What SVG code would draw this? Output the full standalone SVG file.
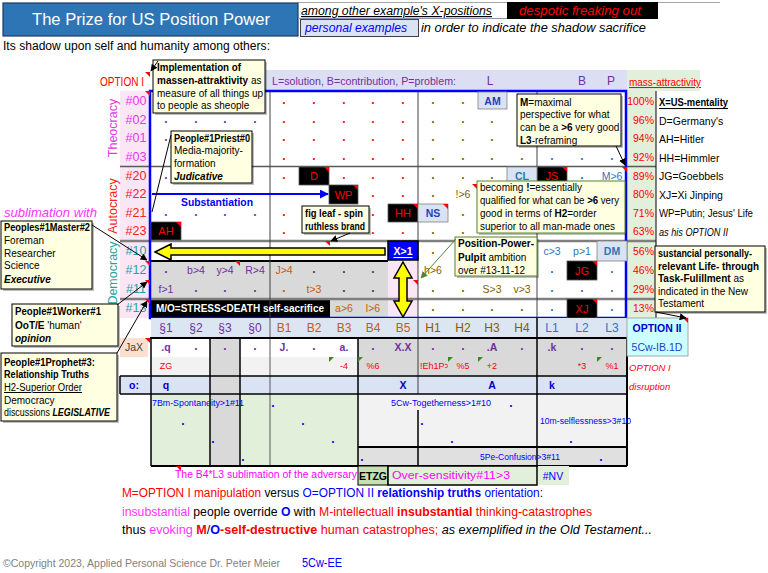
<svg xmlns="http://www.w3.org/2000/svg" width="768" height="573" viewBox="0 0 768 573">
<defs>
<style>
text{font-family:'Liberation Sans',Arial,Helvetica,sans-serif;}
.c{text-anchor:middle;dominant-baseline:central;font-size:10.5px}
.d{text-anchor:middle;font-size:12px;font-weight:bold}
.pu{fill:#7030a0}.or{fill:#c55a11}.ol{fill:#7f6000}.bl{fill:#2e75b6}.rd{fill:#ff0000}.dk{fill:#404040}.bb{fill:#0000ff}
.b{font-weight:bold}.i{font-style:italic}.u{text-decoration:underline}
.cb{fill:#ffffe1;stroke:#000;stroke-width:1}
.cg{fill:#ffffe1;stroke:#548235;stroke-width:1}
.sh{fill:#000;fill-opacity:.25}
.cm{font-size:10px;fill:#000}
.blk{fill:#000;stroke:#595959;stroke-width:.8}
.blt{fill:#ff0000;font-size:11px;text-anchor:middle;dominant-baseline:central}
.lbx{fill:#dae3f3;stroke:#7f7f7f;stroke-width:.8}
.lbt{font-size:10.5px;font-weight:bold;text-anchor:middle;dominant-baseline:central}
.pc{fill:#ff0000;font-size:10.5px;text-anchor:end;dominant-baseline:central}
.lg{font-size:10.5px;fill:#000;dominant-baseline:central}
.rl{font-size:12.5px;text-anchor:middle;dominant-baseline:central}
.sm{font-size:9px;fill:#ff0000;text-anchor:middle;dominant-baseline:central}
.gt{font-size:8.5px;fill:#0000ff}
.hd{font-size:12px;text-anchor:middle;dominant-baseline:central}
.cn{stroke:#000;stroke-width:1;fill:none}
</style>
<marker id="a" viewBox="0 0 10 10" refX="9" refY="5" markerWidth="7" markerHeight="7" orient="auto"><path d="M0,0L10,5L0,10z" fill="#000"/></marker>
<marker id="ag" viewBox="0 0 10 10" refX="9" refY="5" markerWidth="7" markerHeight="7" orient="auto"><path d="M0,0L10,5L0,10z" fill="#548235"/></marker>
<marker id="ab" viewBox="0 0 10 10" refX="9" refY="5" markerWidth="4.5" markerHeight="4.5" orient="auto"><path d="M0,0L10,5L0,10z" fill="#0000ff"/></marker>
<clipPath id="clipEh"><rect x="418" y="357" width="30" height="19"/></clipPath>
</defs>

<rect width="768" height="573" fill="#fff"/>

<g id="header">
<line x1="298" y1="2.5" x2="720" y2="2.5" stroke="#a6a6a6"/>
<rect x="3" y="3" width="295" height="33" fill="#2e75b6" stroke="#1f3864" stroke-width="1.2"/>
<text x="151" y="25" font-size="17" fill="#fff" text-anchor="middle" textLength="238" lengthAdjust="spacingAndGlyphs">The Prize for US Position Power</text>
<line x1="298" y1="18.5" x2="507" y2="18.5" stroke="#8497b0"/>
<text x="301" y="15" font-size="12" class="i u" textLength="191" lengthAdjust="spacingAndGlyphs">among other example's X-positions</text>
<rect x="507" y="2" width="151" height="17" fill="#000"/>
<text x="519" y="15" font-size="12" fill="#ff0000" class="i" textLength="122" lengthAdjust="spacingAndGlyphs">despotic freaking out</text>
<rect x="300.5" y="19.5" width="118" height="17" fill="#dae3f3" stroke="#404040"/>
<text x="305" y="32" font-size="12" fill="#0000ff" class="i" textLength="102" lengthAdjust="spacingAndGlyphs">personal examples</text>
<text x="421" y="32" font-size="12" class="i" textLength="225" lengthAdjust="spacingAndGlyphs">in order to indicate the shadow sacrifice</text>
<text x="3" y="50" font-size="12" textLength="267" lengthAdjust="spacingAndGlyphs">Its shadow upon self and humanity among others:</text>
<text x="100" y="86" font-size="13" fill="#ff0000" textLength="44" lengthAdjust="spacingAndGlyphs">OPTION I</text>
</g>

<g id="bands">
<rect x="265" y="70" width="362" height="21" fill="#dcdff4"/>
<text x="272" y="85" font-size="11" class="pu" textLength="184" lengthAdjust="spacingAndGlyphs">L=solution, B=contribution, P=problem:</text>
<text x="490" y="85" font-size="12" class="pu" text-anchor="middle">L</text>
<text x="582" y="85" font-size="12" class="pu" text-anchor="middle">B</text>
<text x="611" y="85" font-size="12" class="pu" text-anchor="middle">P</text>
<rect x="627" y="70" width="73" height="21" fill="#e2efda"/>
<text x="629" y="86" font-size="10.5" fill="#ff0000" class="u" textLength="72" lengthAdjust="spacingAndGlyphs">mass-attractivity</text>
</g>

<g id="grid-bg">
<rect x="120" y="91" width="30" height="227" fill="#fbe6f6"/>
<rect x="151" y="261" width="237" height="38" fill="#d9d9d9"/>
<rect x="151" y="299" width="179" height="19" fill="#000"/>
<rect x="330" y="299" width="58" height="19" fill="#d9d9d9"/>
<rect x="388" y="261" width="30" height="57" fill="#fbe6f6"/>
<rect x="627" y="91" width="29" height="227" fill="#e2efda"/>
</g>

<g id="grid-lines" fill="none">
<line x1="120" y1="166.5" x2="656" y2="166.5" stroke="#595959" stroke-width="1.5"/>
<line x1="120" y1="241" x2="656" y2="241" stroke="#7f7f7f" stroke-width="2.5"/>
<line x1="120" y1="299" x2="656" y2="299" stroke="#7f7f7f" stroke-width="2.5"/>
<line x1="150" y1="261" x2="388" y2="261" stroke="#000" stroke-width="2"/>
<line x1="270" y1="91" x2="270" y2="318" stroke="#404040"/>
<line x1="418" y1="91" x2="418" y2="318" stroke="#404040"/>
<line x1="537" y1="91" x2="537" y2="318" stroke="#404040"/>
<line x1="656" y1="91" x2="656" y2="318" stroke="#000"/>
<rect x="150" y="91" width="476" height="227" stroke="#0000ff" stroke-width="2.5"/>
</g>

<g id="row-labels">
<text x="113" y="128" class="rl" fill="#e636e6" transform="rotate(-90 113 128)">Theocracy</text>
<text x="113" y="206" class="rl" fill="#ff2020" transform="rotate(-90 113 206)">Autocracy</text>
<text x="113" y="273" class="rl" fill="#2aa0a0" transform="rotate(-90 113 273)">Democracy</text>
<g fill="#e636e6">
<text x="136" y="101" class="rl">#00</text><text x="136" y="120" class="rl">#02</text><text x="136" y="138" class="rl">#01</text><text x="136" y="157" class="rl">#03</text>
</g>
<g fill="#ff2020">
<text x="136" y="176" class="rl">#20</text><text x="136" y="194" class="rl">#22</text><text x="136" y="213" class="rl">#21</text><text x="136" y="231" class="rl">#23</text>
</g>
<g fill="#2aa0a0">
<text x="136" y="251" class="rl">#10</text><text x="136" y="270" class="rl">#12</text><text x="136" y="289" class="rl">#11</text><text x="136" y="308" class="rl">#13</text>
</g>
</g>

<g id="dots">
<text class="d rd" x="284 314 344 373 403" y="104">.....</text><text class="d ol" x="433 463" y="104">..</text>
<text class="d pu" x="166 196 225 255" y="123">....</text><text class="d rd" x="284 314 344 373 403" y="123">.....</text><text class="d ol" x="433 463 492" y="123">...</text>
<text class="d pu" x="166" y="141">.</text><text class="d rd" x="284 314 344 373 403" y="141">.....</text><text class="d ol" x="433 463 492" y="141">...</text>
<text class="d rd" x="284 314 344 373 403" y="160">.....</text><text class="d ol" x="433 463 492 522" y="160">....</text><text class="d bl" x="552 582 612" y="160">...</text>
<text class="d pu" x="166" y="179">.</text><text class="d rd" x="284 344 373 403" y="179">....</text><text class="d ol" x="433 463 492" y="179">...</text><text class="d bl" x="582" y="179">.</text>
<text class="d rd" x="373 403" y="197">..</text><text class="d ol" x="433" y="197">.</text>
<text class="d pu" x="166 196 225 255" y="216">....</text><text class="d rd" x="284 373" y="216">..</text><text class="d ol" x="463" y="216">.</text>
<text class="d rd" x="284 373 403" y="234">...</text><text class="d ol" x="433 463" y="234">..</text>
<text class="d ol" x="433" y="254">.</text>
<text class="d pu" x="166" y="273">.</text><text class="d dk" x="314 344 373" y="273">...</text><text class="d bl" x="552 612" y="273">..</text>
<text class="d pu" x="196 225 255" y="292">...</text><text class="d or" x="284" y="292">.</text><text class="d dk" x="344 373" y="292">..</text><text class="d ol" x="433 463" y="292">..</text><text class="d bl" x="552 582 612" y="292">...</text>
<text class="d ol" x="433 463 492 522" y="311">....</text><text class="d bl" x="552 612" y="311">..</text>
</g>

<g id="cell-values">
<text x="612" y="176" class="c bl" font-size="11">M&gt;6</text>
<text x="463" y="194" class="c ol" font-size="11">!&gt;6</text>
<text x="552" y="251" class="c bl" font-size="11.5">c&gt;3</text>
<text x="582" y="251" class="c bl" font-size="11.5">p&gt;1</text>
<text x="196" y="270" class="c pu" font-size="11">b&gt;4</text>
<text x="225" y="270" class="c pu" font-size="11">y&gt;4</text>
<text x="255" y="270" class="c pu" font-size="11">R&gt;4</text>
<text x="284" y="270" class="c or" font-size="11">J&gt;4</text>
<text x="433" y="270" class="c ol" font-size="11">h&gt;6</text>
<text x="166" y="289" class="c pu" font-size="11">f&gt;1</text>
<text x="314" y="289" class="c or" font-size="11">t&gt;3</text>
<text x="492" y="289" class="c ol" font-size="11">S&gt;3</text>
<text x="522" y="289" class="c ol" font-size="11">v&gt;3</text>
<text x="344" y="308" class="c or" font-size="11">a&gt;6</text>
<text x="373" y="308" class="c or" font-size="11">l&gt;6</text>
<text x="156" y="312" font-size="11.5" fill="#fff" class="b" textLength="168" lengthAdjust="spacingAndGlyphs">M/O=STRESS&lt;DEATH self-sacrifice</text>
</g>

<g id="n-D"><rect x="299" y="167" width="30" height="18" class="blk"/><text x="314" y="176" class="blt">D</text></g>
<g id="n-WP"><rect x="329" y="185" width="29" height="19" class="blk"/><text x="343.5" y="194.5" class="blt">WP</text></g>
<g id="n-JS"><rect x="537" y="167" width="30" height="18" class="blk"/><text x="552" y="176" class="blt">JS</text></g>
<g id="n-HH"><rect x="388" y="204" width="30" height="18" class="blk"/><text x="403" y="213" class="blt">HH</text></g>
<g id="n-AH"><rect x="151" y="222" width="30" height="18" class="blk"/><text x="166" y="231" class="blt">AH</text></g>
<g id="n-JG"><rect x="567" y="261" width="30" height="19" class="blk"/><text x="582" y="270.5" class="blt">JG</text></g>
<g id="n-XJ"><rect x="567" y="299" width="30" height="19" class="blk"/><text x="582" y="308.5" class="blt">XJ</text></g>
<g id="n-AM"><rect x="478" y="92" width="29" height="17" class="lbx"/><text x="492.5" y="100.5" class="lbt" fill="#1f3fbf">AM</text></g>
<g id="n-CL"><rect x="507" y="167" width="30" height="18" class="lbx"/><text x="522" y="176" class="lbt" fill="#2e75b6">CL</text></g>
<g id="n-NS"><rect x="418" y="204" width="30" height="18" class="lbx"/><text x="433" y="213" class="lbt" fill="#1f3fbf">NS</text></g>
<g id="n-DM"><rect x="597" y="241" width="30" height="20" class="lbx"/><text x="612" y="251" class="lbt" fill="#2e75b6">DM</text></g>
<g id="n-X1"><rect x="388" y="241" width="30" height="19" fill="#0000ff" stroke="#000" stroke-width="1.5"/><text x="403" y="251" class="c b u" font-size="12" fill="#fff">X&gt;1</text></g>

<g id="arrows">
<polygon points="155,252 171,244 171,248 385,248 385,255 171,255 171,260" fill="#ffff00" stroke="#000" stroke-width="1.5" stroke-linejoin="miter"/>
<polygon points="403,262 412,278 407,278 407,301 412,301 403,317 394,301 399,301 399,278 394,278" fill="#ffff00" stroke="#000" stroke-width="1.5"/>
<line x1="152" y1="194" x2="328" y2="194" stroke="#0000ff" stroke-width="2" marker-end="url(#ab)"/>
<text x="181" y="206" font-size="11" fill="#0000ff" class="b" textLength="72" lengthAdjust="spacingAndGlyphs">Substantiation</text>
</g>

<g id="percent">
<text x="654" y="101" class="pc">100%</text><text x="654" y="120" class="pc">96%</text><text x="654" y="138" class="pc">94%</text><text x="654" y="157" class="pc">92%</text>
<text x="654" y="176" class="pc">89%</text><text x="654" y="194" class="pc">80%</text><text x="654" y="213" class="pc">71%</text><text x="654" y="231" class="pc">63%</text>
<text x="654" y="251" class="pc">56%</text><text x="654" y="270" class="pc">46%</text><text x="654" y="289" class="pc">29%</text><text x="654" y="308" class="pc">13%</text>
</g>

<g id="legend">
<text x="659" y="102" class="lg b u" textLength="69" lengthAdjust="spacingAndGlyphs">X=US-mentality</text>
<text x="659" y="121" class="lg">D=Germany's</text>
<text x="659" y="139" class="lg">AH=Hitler</text>
<text x="659" y="158" class="lg">HH=Himmler</text>
<text x="659" y="176" class="lg">JG=Goebbels</text>
<text x="659" y="195" class="lg">XJ=Xi Jinping</text>
<text x="659" y="213" class="lg" textLength="94" lengthAdjust="spacingAndGlyphs">WP=Putin; Jesus' Life</text>
<text x="659" y="232" class="lg i" fill="#0000ff" textLength="69" lengthAdjust="spacingAndGlyphs">as his OPTION II</text>
</g>

<g id="lower-bg">
<rect x="151" y="318" width="476" height="20" fill="#dce6f2"/>
<rect x="151" y="338" width="207" height="19" fill="#fff"/>
<rect x="358" y="338" width="269" height="19" fill="#d9d9d9"/>
<rect x="151" y="357" width="207" height="19" fill="#f2f2f2"/>
<rect x="358" y="357" width="269" height="19" fill="#d9d9d9"/>
<rect x="120" y="376" width="507" height="18" fill="#dae3f3"/>
<rect x="151" y="394" width="207" height="72" fill="#e2efda"/>
<rect x="358" y="394" width="269" height="53" fill="#f2f2f2"/>
<rect x="358" y="447" width="269" height="19" fill="#e0e0e0"/>
<rect x="210" y="338" width="30" height="128" fill="#d9d9d9"/>
<rect x="120" y="338" width="28" height="19" fill="#fbe0d0"/>
</g>

<g id="lower-lines" fill="none">
<line x1="270" y1="318" x2="270" y2="466" stroke="#595959"/>
<line x1="418" y1="318" x2="418" y2="394" stroke="#404040"/>
<line x1="418" y1="410" x2="418" y2="466" stroke="#000" stroke-width="1.5"/>
<line x1="537" y1="318" x2="537" y2="466" stroke="#000" stroke-width="1.5"/>
<line x1="210" y1="338" x2="210" y2="466" stroke="#000" stroke-width="1.5"/>
<line x1="240" y1="338" x2="240" y2="466" stroke="#000" stroke-width="1.5"/>
<line x1="358" y1="338" x2="358" y2="466" stroke="#000" stroke-width="1.5"/>
<line x1="150" y1="338" x2="627" y2="338" stroke="#000" stroke-width="2"/>
<line x1="120" y1="376" x2="627" y2="376" stroke="#000" stroke-width="1.5"/>
<line x1="120" y1="394" x2="627" y2="394" stroke="#000" stroke-width="1.5"/>
<line x1="120" y1="376" x2="120" y2="394" stroke="#000" stroke-width="1.5"/>
<line x1="358" y1="447" x2="627" y2="447" stroke="#000" stroke-width="2"/>
<line x1="151" y1="338" x2="151" y2="466" stroke="#000" stroke-width="1.5"/>
<line x1="627" y1="338" x2="627" y2="466" stroke="#000" stroke-width="2"/>
<line x1="151" y1="466" x2="627" y2="466" stroke="#000" stroke-width="2"/>
</g>

<g id="col-headers">
<text x="166" y="328" class="hd pu">§1</text><text x="196" y="328" class="hd pu">§2</text><text x="225" y="328" class="hd pu">§3</text><text x="255" y="328" class="hd pu">§0</text>
<text x="284" y="328" class="hd or">B1</text><text x="314" y="328" class="hd or">B2</text><text x="344" y="328" class="hd or">B3</text><text x="373" y="328" class="hd or">B4</text><text x="403" y="328" class="hd or">B5</text>
<text x="433" y="328" class="hd ol">H1</text><text x="463" y="328" class="hd ol">H2</text><text x="492" y="328" class="hd ol">H3</text><text x="522" y="328" class="hd ol">H4</text>
<text x="552" y="328" class="hd bl">L1</text><text x="582" y="328" class="hd bl">L2</text><text x="612" y="328" class="hd bl">L3</text>
</g>

<g id="n-option2">
<rect x="627" y="318" width="61" height="38" fill="#ccffff" stroke="#a6a6a6"/>
<text x="657" y="328" class="c b" font-size="12" fill="#0000cc">OPTION II</text>
<text x="657" y="347" class="c" font-size="11" fill="#1f3fbf">5Cw-IB.1D</text>
</g>

<g id="lower-values">
<text x="134" y="347" class="c" font-size="12" fill="#404040">JaX</text>
<text x="166" y="347" class="c pu b" font-size="12">.q</text>
<text class="d pu" x="196 225 255" y="350">...</text>
<text x="284" y="347" class="c pu b" font-size="12">J.</text>
<text class="d pu" x="314" y="350">.</text>
<text x="344" y="347" class="c pu b" font-size="12">a.</text>
<text class="d pu" x="373" y="350">.</text>
<text x="403" y="347" class="c pu b" font-size="12">X.X</text>
<text class="d pu" x="433 463" y="350">..</text>
<text x="492" y="347" class="c pu b" font-size="12">.A</text>
<text class="d pu" x="522" y="350">.</text>
<text x="552" y="347" class="c pu b" font-size="12">.k</text>
<text class="d pu" x="582 612" y="350">..</text>
<text x="166" y="366" class="sm">ZG</text>
<text x="344" y="366" class="sm">-4</text>
<text x="373" y="366" class="sm">%6</text>
<text x="420" y="366" class="sm" style="text-anchor:start" clip-path="url(#clipEh)">!Eh1P&gt;5</text>
<text x="463" y="366" class="sm">%5</text>
<text x="492" y="366" class="sm">+2</text>
<text x="582" y="366" class="sm">*3</text>
<text x="612" y="366" class="sm">%1</text>
<text x="629" y="367" font-size="9.5" fill="#ff0000" class="i" dominant-baseline="central">OPTION I</text>
<text x="629" y="386" font-size="9.5" fill="#ff0000" class="i" dominant-baseline="central">disruption</text>
<text x="134" y="385" class="c b" font-size="12.5" fill="#0000cc">o:</text>
<text x="166" y="385" class="c b" font-size="12.5" fill="#0000cc">q</text>
<text x="403" y="385" class="c b" font-size="12.5" fill="#0000cc">X</text>
<text x="492" y="385" class="c b" font-size="12.5" fill="#0000cc">A</text>
<text x="552" y="385" class="c b" font-size="12.5" fill="#0000cc">k</text>
<text x="152" y="406" class="gt" textLength="92" lengthAdjust="spacingAndGlyphs">7Bm-Spontaneity&gt;1#11</text>
<text x="391" y="406" class="gt" textLength="100" lengthAdjust="spacingAndGlyphs">5Cw-Togetherness&gt;1#10</text>
<text x="540" y="424" class="gt" textLength="91" lengthAdjust="spacingAndGlyphs">10m-selflessness&gt;3#10</text>
<text x="480" y="460" class="gt" textLength="80" lengthAdjust="spacingAndGlyphs">5Pe-Confusion&gt;3#11</text>
<text class="d bb" font-size="10" x="183 213 243 273 303 333 362 422 452 511 571 601" y="425 443 461 407 425 443 461 425 443 407 443 461">............</text>
</g>

<g id="markers" fill="#ff0000">
<path d="M145,72h5v5z"/><path d="M145,91h5v5z"/><path d="M324,167h5v5z"/><path d="M353,185h5v5z"/>
<path d="M562,167h5v5z"/><path d="M472,184h5v5z"/><path d="M413,204h5v5z"/><path d="M443,204h5v5z"/>
<path d="M176,222h5v5z"/><path d="M235,261h5v5z"/><path d="M145,261h5v5z"/><path d="M145,280h5v5z"/>
<path d="M145,299h5v5z"/><path d="M325,241h5v5z"/><path d="M413,280h5v5z"/><path d="M592,261h5v5z"/>
<path d="M592,299h5v5z"/><path d="M683,318h5v5z"/><path d="M145,338h5v5z"/><path d="M176,466h5v5z"/>
<path d="M622,167h5v5z"/>
</g>
<g id="green-markers" fill="#3a8a1e">
<path d="M329,357h5l-5,5z"/><path d="M358,357h5l-5,5z"/><path d="M448,357h5l-5,5z"/><path d="M478,357h5l-5,5z"/><path d="M597,357h5l-5,5z"/>
</g>

<g id="bottom-row">
<text x="175" y="478" font-size="11" fill="#ff00ff" textLength="182" lengthAdjust="spacingAndGlyphs">The B4*L3 sublimation of the adversary</text>
<g id="n-ETZG"><rect x="358" y="466" width="30" height="19" fill="#c6e0b4" stroke="#000"/><text x="373" y="476" class="c b" font-size="8.5">ETZG</text></g>
<g id="n-oversens"><rect x="388" y="466" width="149" height="19" fill="#e2efda" stroke="#000" stroke-width="1.5"/><text x="392" y="479" font-size="10.5" fill="#ff00ff" textLength="118" lengthAdjust="spacingAndGlyphs">Over-sensitivity#11&gt;3</text></g>
<g id="n-NV"><rect x="538" y="466" width="31" height="19" fill="#e2efda"/><text x="553" y="476" class="c" font-size="10" fill="#0000ff">#NV</text></g>
</g>

<g id="c-massen">
<rect x="155" y="62" width="112" height="53" class="sh"/>
<rect x="153" y="60" width="112" height="53" class="cb"/>
<text x="157" y="71" class="cm b" textLength="84" lengthAdjust="spacingAndGlyphs">Implementation of</text>
<text x="157" y="84" class="cm"><tspan class="b">massen-attraktivity</tspan> as</text>
<text x="157" y="97" class="cm">measure of all things up</text>
<text x="157" y="109" class="cm">to people as sheople</text>
</g>

<g id="c-maximal">
<rect x="519" y="96" width="104" height="52" class="sh"/>
<rect x="517" y="94" width="104" height="52" class="cb"/>
<text x="520" y="106" class="cm"><tspan class="b">M</tspan>=maximal</text>
<text x="520" y="118" class="cm">perspective for what</text>
<text x="520" y="131" class="cm">can be a <tspan class="b">&gt;6</tspan> very good</text>
<text x="520" y="144" class="cm"><tspan class="b">L3</tspan>-reframing</text>
</g>

<g id="c-priest">
<rect x="173" y="133" width="81" height="52" class="sh"/>
<rect x="171" y="131" width="81" height="52" class="cb"/>
<text x="174" y="142" class="cm b" textLength="76" lengthAdjust="spacingAndGlyphs">People#1Priest#0</text>
<text x="174" y="154" class="cm">Media-majority-</text>
<text x="174" y="167" class="cm">formation</text>
<text x="174" y="180" class="cm b i">Judicative</text>
</g>

<g id="c-becoming">
<rect x="479" y="183" width="148" height="52" class="sh"/>
<rect x="477" y="181" width="148" height="52" class="cg"/>
<text x="480" y="191" class="cm">becoming <tspan class="b">!</tspan>=essentially</text>
<text x="480" y="204" class="cm" textLength="139" lengthAdjust="spacingAndGlyphs">qualified for what can be <tspan class="b">&gt;6</tspan> very</text>
<text x="480" y="217" class="cm">good in terms of <tspan class="b">H2</tspan>=order</text>
<text x="480" y="230" class="cm">superior to all man-made ones</text>
</g>

<g id="c-figleaf">
<rect x="304" y="208" width="67" height="27" class="sh"/>
<rect x="302" y="206" width="67" height="27" class="cb"/>
<text x="305" y="217" class="cm b" textLength="58" lengthAdjust="spacingAndGlyphs">fig leaf - spin</text>
<text x="305" y="230" class="cm b" textLength="60" lengthAdjust="spacingAndGlyphs">ruthless brand</text>
</g>

<g id="c-pulpit">
<rect x="457" y="239" width="82" height="39" class="sh"/>
<rect x="455" y="237" width="82" height="39" class="cg"/>
<text x="458" y="247" class="cm b" textLength="76" lengthAdjust="spacingAndGlyphs">Position-Power-</text>
<text x="458" y="261" class="cm"><tspan class="b">Pulpit</tspan> ambition</text>
<text x="458" y="274" class="cm">over #13-11-12</text>
</g>

<g id="c-master">
<text x="4" y="217" font-size="13" fill="#ff33ff" class="i" textLength="93" lengthAdjust="spacingAndGlyphs">sublimation with</text>
<rect x="3" y="223" width="91" height="68" class="sh"/>
<rect x="1" y="221" width="91" height="68" class="cb"/>
<text x="4" y="231" class="cm b" textLength="86" lengthAdjust="spacingAndGlyphs">Peoples#1Master#2</text>
<text x="4" y="244" class="cm">Foreman</text>
<text x="4" y="257" class="cm">Researcher</text>
<text x="4" y="269" class="cm">Science</text>
<text x="4" y="283" class="cm b i">Executive</text>
</g>

<g id="c-worker">
<rect x="14" y="306" width="106" height="42" class="sh"/>
<rect x="12" y="304" width="106" height="42" class="cb"/>
<text x="15" y="315" class="cm b" textLength="86" lengthAdjust="spacingAndGlyphs">People#1Worker#1</text>
<text x="15" y="329" class="cm"><tspan class="b">OoT/E</tspan> 'human'</text>
<text x="15" y="342" class="cm b i">opinion</text>
</g>

<g id="c-prophet">
<rect x="3" y="355" width="116" height="68" class="sh"/>
<rect x="1" y="353" width="116" height="68" class="cb"/>
<text x="4" y="366" class="cm b" textLength="91" lengthAdjust="spacingAndGlyphs">People#1Prophet#3:</text>
<text x="4" y="378" class="cm b" textLength="85" lengthAdjust="spacingAndGlyphs">Relationship Truths</text>
<text x="4" y="391" class="cm u" textLength="78" lengthAdjust="spacingAndGlyphs">H2-Superior Order</text>
<text x="4" y="404" class="cm">Democracy</text>
<text x="4" y="416" class="cm" textLength="106" lengthAdjust="spacingAndGlyphs">discussions <tspan class="b i">LEGISLATIVE</tspan></text>
</g>

<g id="c-sustancial">
<rect x="657" y="248" width="110" height="66" class="sh"/>
<rect x="655" y="246" width="110" height="66" class="cb"/>
<text x="658" y="257" class="cm b" textLength="94" lengthAdjust="spacingAndGlyphs">sustancial personally-</text>
<text x="658" y="270" class="cm b" textLength="101" lengthAdjust="spacingAndGlyphs">relevant  Life- through</text>
<text x="658" y="282" class="cm"><tspan class="b">Task-Fulillment</tspan> as</text>
<text x="658" y="295" class="cm">indicated in the New</text>
<text x="658" y="307" class="cm">Testament</text>
</g>

<g id="connectors">
<line x1="158" y1="61" x2="151" y2="71" class="cn" marker-end="url(#a)"/>
<line x1="616" y1="146" x2="625" y2="165" class="cn" marker-end="url(#a)"/>
<line x1="171" y1="135" x2="152" y2="212" class="cn"/>
<line x1="350" y1="233" x2="331" y2="241" class="cn" marker-end="url(#a)"/>
<line x1="456" y1="239" x2="421" y2="278" stroke="#548235" stroke-width="1" marker-end="url(#ag)"/>
<line x1="92" y1="225" x2="147" y2="260" class="cn" marker-end="url(#a)"/>
<line x1="117" y1="305" x2="147" y2="282" class="cn" marker-end="url(#a)"/>
<line x1="117" y1="353" x2="147" y2="301" class="cn" marker-end="url(#a)"/>
<line x1="656" y1="312" x2="686" y2="318" class="cn" marker-end="url(#a)"/>
</g>

<g id="footer">
<text x="122" y="497" font-size="12.5" textLength="421" lengthAdjust="spacingAndGlyphs"><tspan fill="#ff0000">M=OPTION I manipulation</tspan> versus <tspan fill="#0000ff">O=OPTION II </tspan><tspan fill="#0000ff" font-weight="bold">relationship truths</tspan><tspan fill="#0000ff"> orientation</tspan>:</text>
<text x="122" y="516" font-size="12.5" textLength="470" lengthAdjust="spacingAndGlyphs"><tspan fill="#ff33ff">insubstantial</tspan> people override <tspan fill="#0000ff" font-weight="bold">O</tspan> with <tspan fill="#ff0000">M-intellectuall </tspan><tspan fill="#ff0000" font-weight="bold">insubstantial</tspan><tspan fill="#ff0000"> thinking-catastrophes</tspan></text>
<text x="122" y="534" font-size="12.5" textLength="530" lengthAdjust="spacingAndGlyphs">thus <tspan fill="#ff33ff">evoking </tspan><tspan fill="#ff0000" font-weight="bold">M</tspan>/<tspan fill="#0000ff" font-weight="bold">O</tspan><tspan fill="#ff0000" font-weight="bold">-self-destructive</tspan><tspan fill="#ff0000"> human catastrophes;</tspan><tspan font-style="italic"> as exemplified in the Old Testament...</tspan></text>
<text x="3" y="567" font-size="11" fill="#7f7f7f" textLength="277" lengthAdjust="spacingAndGlyphs">©Copyright 2023, Applied Personal Science Dr. Peter Meier</text>
<text x="302" y="567" font-size="12" fill="#0000ff" textLength="40" lengthAdjust="spacingAndGlyphs">5Cw-EE</text>
</g>
</svg>
